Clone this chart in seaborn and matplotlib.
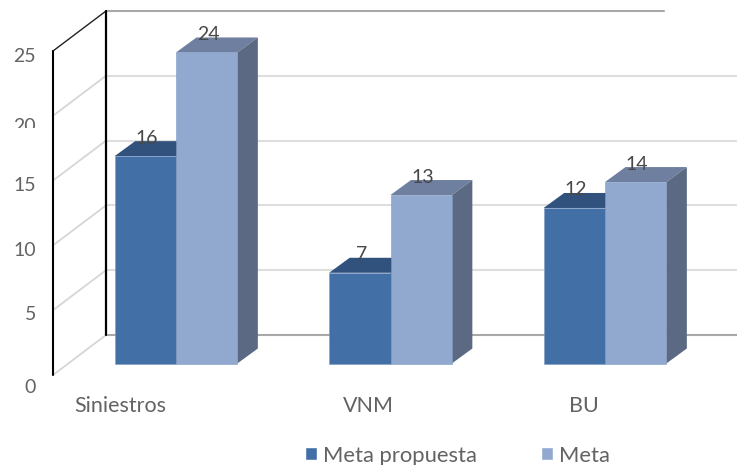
import matplotlib
matplotlib.use('Agg')
import matplotlib.pyplot as plt
import pandas as pd
import seaborn as sns
from matplotlib.patches import Polygon
from matplotlib.transforms import Affine2D, Bbox

# datos del grafico
categorias = ['Siniestros', 'VNM', 'BU']
meta_propuesta = [16, 7, 12]
meta = [24, 13, 14]
series = ['Meta propuesta', 'Meta']
y_ticks = [0, 5, 10, 15, 20, 25]

# colores
C_DARK, C_LIGHT = '#4270A6', '#92A9CF'
C_DARK_TOP, C_DARK_SIDE = '#30527D', '#2F4E75'
C_LIGHT_TOP, C_LIGHT_SIDE = '#6F7F9F', '#5B6A82'
C_TICK, C_LABEL = '#636363', '#484848'

W, H = 737, 465
PX_UNIT = 12.96      # pixeles por unidad
BASE_Y = 363.5       # base de las barras
CAT_X = 176          # centro de la primera categoria
CAT_STEP = 214.5
DX, DY = 20.5, 15    # profundidad 3D

sns.set_theme(style='white')
plt.rcParams['font.family'] = ['Lato', 'DejaVu Sans']

df = pd.DataFrame({
    'categoria': categorias * 2,
    'serie': [series[0]] * 3 + [series[1]] * 3,
    'valor': meta_propuesta + meta,
})

fig = plt.figure(figsize=(W / 100, H / 100), dpi=100)
ax = fig.add_axes([0, 0, 1, 1])
sns.barplot(data=df, x='categoria', y='valor', hue='serie', palette=[C_DARK, C_LIGHT],
            width=0.572, gap=0, saturation=1, ax=ax)
ax.set_xlim(-CAT_X / CAT_STEP, (W - CAT_X) / CAT_STEP)
ax.set_ylim((BASE_Y - H) / PX_UNIT, BASE_Y / PX_UNIT)
ax.axis('off')

# coordenadas en pixeles de la imagen (origen arriba a la izquierda)
px = Affine2D().scale(1, -1).translate(0, H)

# paredes y rejilla
for v in y_ticks:
    yb = 335 - v * PX_UNIT
    yf = 375 - v * PX_UNIT
    col = '#A8A8A8' if v in (0, 25) else '#DEDEDE'
    xend = 664 if v == 25 else W
    ax.plot([106, xend], [yb, yb], color=col, lw=1.5, transform=px, zorder=0.5)
    ax.plot([53, 106], [yf, yb], color='#222222' if v == 25 else '#D6D6D6',
            lw=1.0 if v == 25 else 1.3, transform=px, zorder=0.6)
ax.plot([53, 53], [51, 375], color='black', lw=1.5, transform=px, zorder=0.7)
ax.plot([106, 106], [11, 335], color='black', lw=1.6, transform=px, zorder=0.7)

# caras laterales y superiores de cada barra
dx = DX / CAT_STEP
dy = DY / PX_UNIT
estilos = [(C_DARK_TOP, C_DARK_SIDE, 2.0), (C_LIGHT_TOP, C_LIGHT_SIDE, 2.2)]
for cont, (c_top, c_side, z) in zip(ax.containers, estilos):
    for bar in cont:
        x0, w, h = bar.get_x(), bar.get_width(), bar.get_height()
        x1 = x0 + w
        ax.add_patch(Polygon([(x0, h), (x1, h), (x1 + dx, h + dy), (x0 + dx, h + dy)],
                             fc=c_top, ec='none', zorder=z))
        ax.add_patch(Polygon([(x1, 0), (x1 + dx, dy), (x1 + dx, h + dy), (x1, h)],
                             fc=c_side, ec='none', zorder=z))
        bar.set_zorder(z + 0.1)
        bar.set_edgecolor('#7F9AC4')
        bar.set_linewidth(0.4)
        ax.annotate(f'{h:g}', (x0 + w / 2, h), xytext=(1.5, 18), textcoords='offset pixels',
                    ha='center', va='center', fontsize=14, color=C_LABEL, zorder=5)

# etiquetas del eje y
tick_y_px = [387, 314, 250, 185, 126, 56]
for v, yp in zip(y_ticks, tick_y_px):
    t = ax.text(36, yp, str(v), transform=px, ha='right', va='center',
                fontsize=14, color=C_TICK)
    if v == 20:
        # el "20" aparece cortado en el original
        t.set_clip_box(Bbox([[0, H - 128], [W, H]]))
        t.set_clip_on(True)

# etiquetas de categoria
for nombre, xp in zip(categorias, [120, 368, 584]):
    ax.text(xp, 406, nombre, transform=px, ha='center', va='center',
            fontsize=15.5, color=C_TICK)

# leyenda
leg = ax.legend(loc='center left', bbox_to_anchor=(305 / W, 1 - 455.5 / H), ncol=2, frameon=False,
                fontsize=15.8, labelcolor=C_TICK, handlelength=0.55, handleheight=0.55,
                handletextpad=0.28, columnspacing=2.9, borderpad=0, borderaxespad=0)

fig.savefig('out.png', dpi=100)
